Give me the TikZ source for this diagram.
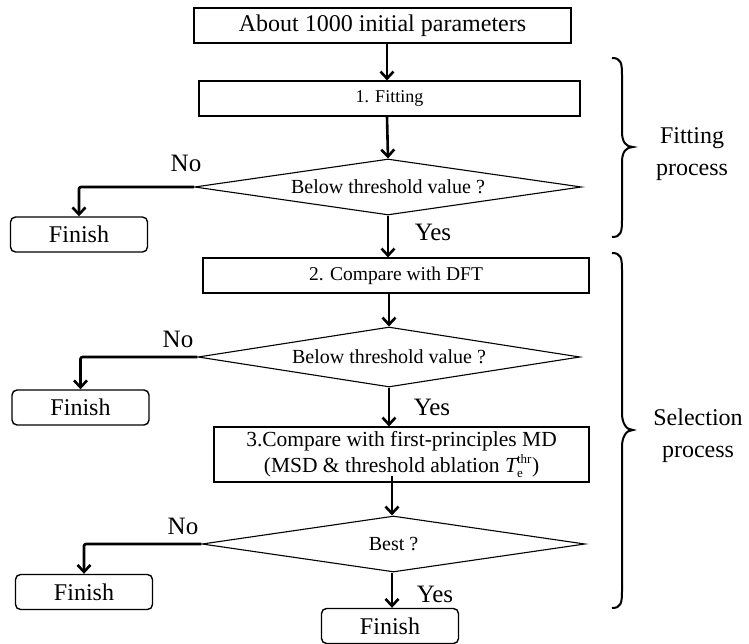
\documentclass[tikz,border=0pt]{standalone}
\usepackage{fontspec}
\setmainfont{Liberation Serif}
\usetikzlibrary{shapes.geometric,arrows.meta}
\begin{document}
\begin{tikzpicture}[x=1pt,y=-1pt,
  procbox/.style={draw,line width=1.1pt,rectangle,inner sep=0pt,align=center},
  decision/.style={draw,line width=1.1pt,diamond,aspect=7,inner sep=0pt,font=\fontsize{20}{24}\selectfont},
  endbox/.style={draw,line width=1.4pt,rounded corners=5pt,rectangle,inner sep=0pt,minimum width=137pt,minimum height=35pt,font=\fontsize{24}{28}\selectfont},
  flow/.style={line width=2.6pt,-{Straight Barb[length=7pt,width=13pt]}},
  noflow/.style={line width=2.6pt,rounded corners=2pt,-{Straight Barb[length=7pt,width=13pt]}},
  lab/.style={font=\fontsize{25}{30}\selectfont,inner sep=0pt},
  grp/.style={font=\fontsize{24}{32}\selectfont,align=center,inner sep=0pt},
  bracepath/.style={line width=2pt},
]
\useasboundingbox (0,0) rectangle (749,644);

% process boxes
\node[procbox,minimum width=377pt,minimum height=35pt,font=\fontsize{24}{28}\selectfont] (start) at (382.5,25.5) {About 1000 initial parameters};
\node[procbox,minimum width=381pt,minimum height=35pt,font=\fontsize{18}{22}\selectfont] (fit) at (389.5,98.5) {1. Fitting};
\node[decision,minimum width=387pt,minimum height=56pt] (d1) at (388,187) {Below threshold value ?};
\node[procbox,minimum width=386pt,minimum height=35pt,font=\fontsize{19.5}{23}\selectfont] (dft) at (396,275.5) {2. Compare with DFT};
\node[decision,minimum width=382pt,minimum height=60pt] (d2) at (389,357) {Below threshold value ?};
\node[procbox,minimum width=375pt,minimum height=55pt,font=\fontsize{21.5}{26}\selectfont] (md) at (401.5,454.5)
  {3.Compare with first-principles MD\\(MSD \& threshold ablation $\textit{T}_{\hbox{\fontsize{13}{13}\selectfont e}}^{\hbox{\fontsize{13}{13}\selectfont thr}}$)};
\node[decision,minimum width=383pt,minimum height=56pt] (d3) at (393.5,544) {Best ?};

% finish boxes
\node[endbox] (f1) at (79,234.5) {Finish};
\node[endbox] (f2) at (80.5,407.5) {Finish};
\node[endbox] (f3) at (84,592) {Finish};
\node[endbox] (f4) at (390,626) {Finish};

% main flow
\draw[flow] (start.south -| 387,0) -- (fit.north -| 387,0);
\draw[flow] (fit.south -| 387,0) -- (d1.north);
\draw[flow] (d1.south) -- (dft.north -| d1.south);
\draw[flow] (dft.south -| d2.north) -- (d2.north);
\draw[flow] (d2.south) -- (md.north -| d2.south);
\coordinate (mdout) at (392,476);
\draw[flow] (mdout) -- (d3.north -| mdout);
\draw[flow] (d3.south -| mdout) -- (f4.north -| mdout);

% no branches
\draw[noflow] (d1.west) -| (f1.north);
\draw[noflow] (d2.west) -| (f2.north);
\draw[noflow] (d3.west) -| (f3.north);

% labels
\node[lab] (no1) at (186,163) {No};
\node[lab] (no2) at (178,339) {No};
\node[lab] (no3) at (183,526) {No};
\node[lab] (yes1) at (433,232) {Yes};
\node[lab] (yes2) at (432,407) {Yes};
\node[lab] (yes3) at (435,594) {Yes};

% braces
\draw[bracepath] (612,58) .. controls (621,58) and (622,63) .. (622,75) -- (622,132)
  .. controls (622,142) and (626,147) .. (633,147)
  .. controls (626,147) and (622,152) .. (622,162) -- (622,220)
  .. controls (622,232) and (621,237) .. (612,237);
\draw[bracepath] (612,253) .. controls (621,253) and (622,258) .. (622,270) -- (622,413)
  .. controls (622,423) and (626,430) .. (633,430)
  .. controls (626,430) and (622,437) .. (622,447) -- (622,591)
  .. controls (622,603) and (621,608) .. (612,608);
\node[grp] (g1) at (692,154) {Fitting\\process};
\node[grp] (g2) at (698,436) {Selection\\process};
\end{tikzpicture}
\end{document}
